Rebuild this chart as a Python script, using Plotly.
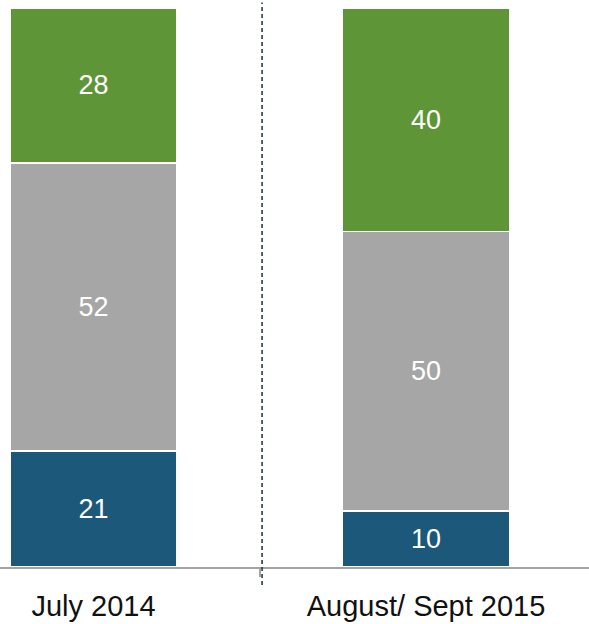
import plotly.graph_objects as go

periods = ["July 2014", "August/ Sept 2015"]
series_names = ["Bottom", "Middle", "Top"]
bottom_vals = [21, 10]
middle_vals = [52, 50]
top_vals = [28, 40]
colors = ["#1c5879", "#a6a6a6", "#5e9637"]

fig = go.Figure()
for name, vals, col in zip(series_names, [bottom_vals, middle_vals, top_vals], colors):
    fig.add_trace(go.Bar(
        x=periods, y=vals, name=name,
        marker=dict(color=col, line=dict(color="white", width=1.5)),
        text=[str(v) for v in vals],
        textposition="inside", insidetextanchor="middle",
        textfont=dict(color="white", size=27, family="Liberation Sans"),
        width=0.502,
    ))

fig.update_layout(
    barmode="stack",
    barnorm="percent",
    width=589, height=624,
    margin=dict(l=0, r=0, t=8, b=57),
    paper_bgcolor="white", plot_bgcolor="white",
    showlegend=False,
    xaxis=dict(
        type="category", range=[-0.281, 1.49],
        showline=True, linecolor="#a3a3a3", linewidth=2,
        ticks="outside", tickson="boundaries", ticklen=8, tickcolor="#a3a3a3", tickwidth=1.5,
        ticklabelstandoff=12,
        tickfont=dict(size=29, family="Liberation Sans", color="#111111"),
        showgrid=False, zeroline=False, fixedrange=True,
    ),
    yaxis=dict(range=[0, 100], visible=False, showgrid=False, zeroline=False),
    shapes=[dict(
        type="line", xref="x", yref="paper",
        x0=0.507, x1=0.507, y0=-0.032, y1=1.01,
        line=dict(color="#2a3a4a", width=1.6, dash="4px,3px"),
    )],
)

fig.write_html("out.html")
